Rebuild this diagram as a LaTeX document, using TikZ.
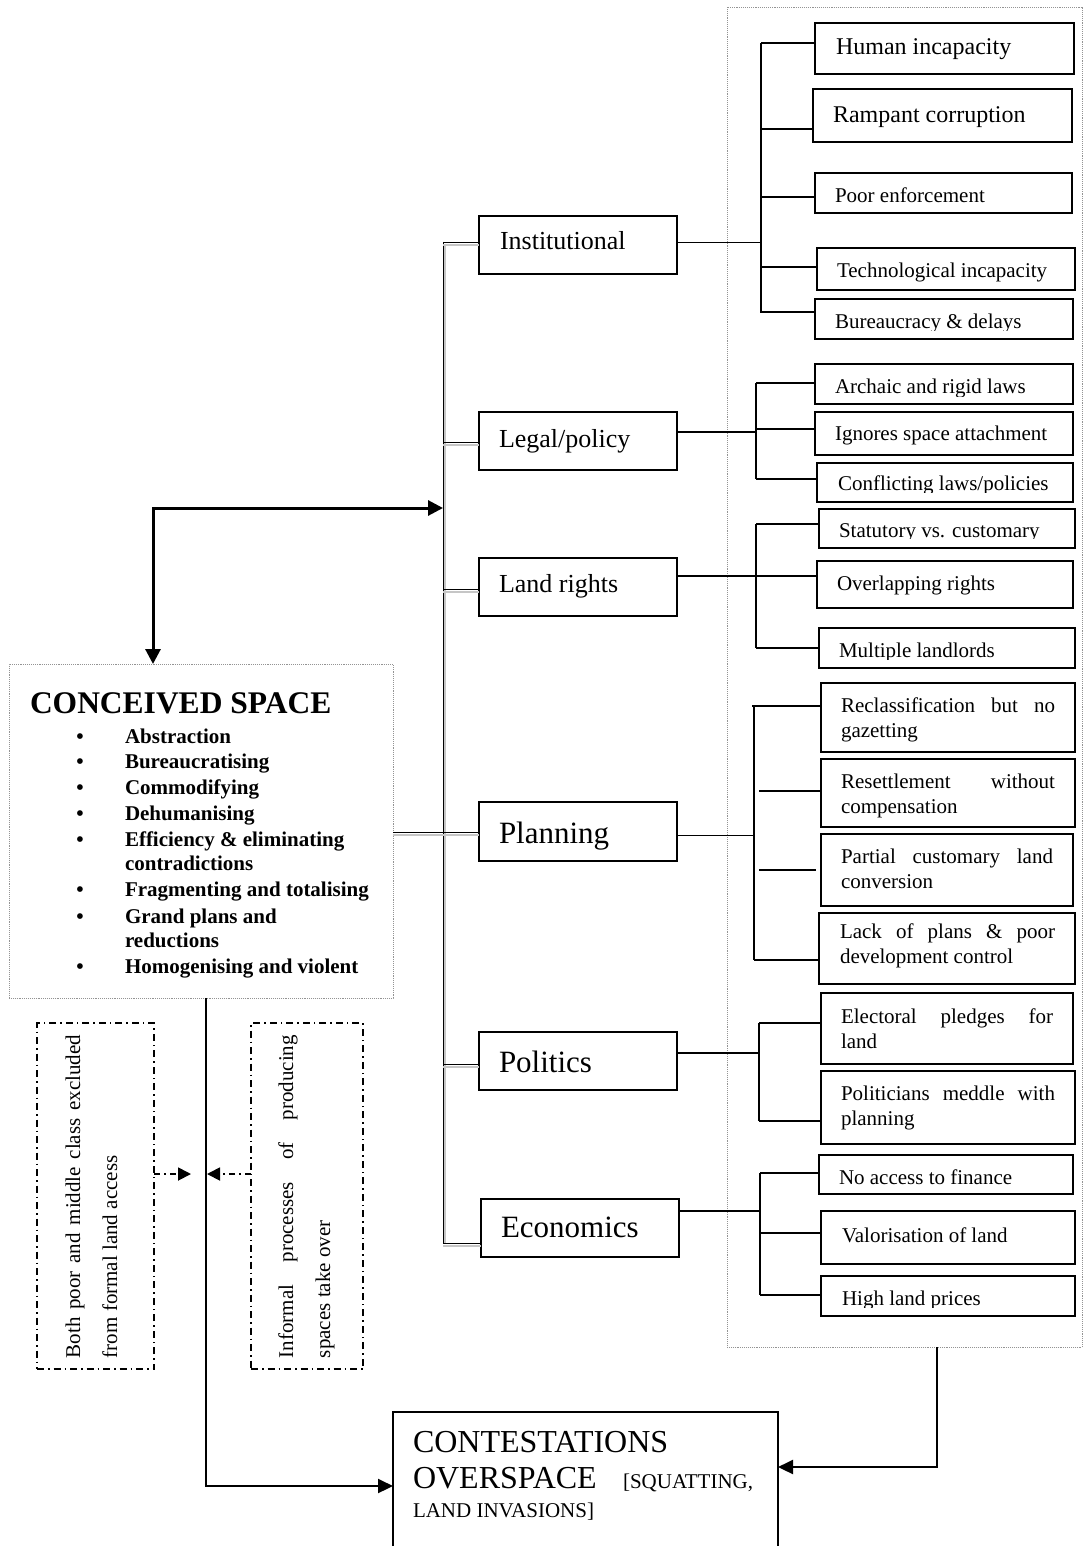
\documentclass[tikz,border=0pt]{standalone}
\usepackage{fontspec}
\setmainfont{Liberation Serif}
\usetikzlibrary{arrows.meta,calc}

\newcommand{\fs}[1]{\fontsize{#1}{#1}\selectfont}
% box from its top-left to its bottom-right corner
\newcommand{\boxat}[6][itembox]{\node[#1, minimum width={#5-#3}, minimum height={#6-#4}] (#2) at (#3,#4) {};}
% one line of text placed at its baseline start
\newcommand{\lineat}[5][21]{\node[txt, font=\fs{#1}] (#2) at (#3,#4) {#5};}
% two-line justified entry: first line stretched to the given width
\newcommand{\twoline}[6]{%
  \node[txt, font=\fs{21}] (#1a) at (#2,#3) {\makebox[#4pt][s]{#5}};
  \node[txt, font=\fs{21}] (#1b) at (#2,#3+25) {#6};}
% one line whose lower part is cut by the text area of its box
\newcommand{\cutline}[5]{%
  \begin{scope}\clip (#2-5,#3-30) rectangle (1080,#4);
  \node[txt, font=\fs{21}] (#1) at (#2,#3) {#5};\end{scope}}

\tikzset{
  catbox/.style={draw, line width=1.1pt, inner sep=0pt, outer sep=0pt, anchor=north west},
  itembox/.style={draw, line width=1.4pt, inner sep=0pt, outer sep=0pt, anchor=north west},
  heavybox/.style={itembox, line width=2.2pt},
  dotbox/.style={draw=gray!85, densely dotted, line width=0.9pt, inner sep=0pt, outer sep=0pt, anchor=north west},
  dashdotbox/.style={draw, line width=1.5pt, dash pattern=on 7pt off 4pt on 1.5pt off 4pt, inner sep=0pt, outer sep=0pt, anchor=north west},
  txt/.style={anchor=base west, inner sep=0pt, outer sep=0pt},
  branch/.style={line width=2pt},
  thinlink/.style={line width=0.9pt},
  shadowline/.style={gray!45, line width=1.4pt},
  heavyarrow/.style={line width=3pt, arrows={Triangle[length=15pt,width=15pt]-Triangle[length=15pt,width=15pt]}},
  flowarrow/.style={line width=2.2pt, arrows={-Triangle[length=15pt,width=14pt]}},
  ddarrow/.style={line width=1.8pt, dash pattern=on 6pt off 4pt on 2pt off 4pt, arrows={-Triangle[length=13pt,width=13pt]}},
}

\begin{document}
\begin{tikzpicture}[x=1pt,y=-1pt]
\useasboundingbox (0,0) rectangle (1084,1546);

% ---------- outer dotted frame of the sub-factors ----------
\boxat[dotbox]{frame}{727}{7}{1082}{1347}

% ---------- conceived space ----------
\boxat[dotbox]{conc}{9}{664}{393}{998}
\node[txt, font=\fs{31.5}\bfseries] (conct) at (30,713) {CONCEIVED SPACE};
\foreach \y/\t [count=\i] in {743/Abstraction, 768/Bureaucratising, 794/Commodifying, 820/Dehumanising,
    846/{Efficiency \& eliminating}, 896/Fragmenting and totalising, 923/Grand plans and, 973/Homogenising and violent}{
  \node[anchor=base, inner sep=0pt, font=\fs{21}\bfseries] (bul\i) at (80,\y) {•};
  \node[txt, font=\fs{21}\bfseries] (item\i) at (125,\y) {\t};
}
\node[txt, font=\fs{21}\bfseries] (item5b) at (125,870) {contradictions};
\node[txt, font=\fs{21}\bfseries] (item7b) at (125,947) {reductions};

% ---------- category boxes ----------
\boxat[catbox]{inst}{479}{216}{677}{274}
\boxat[catbox]{leg}{479}{412}{677}{470}
\boxat[catbox]{lan}{479}{558}{677}{616}
\boxat[catbox]{pla}{479}{802}{677}{861}
\boxat[catbox]{pol}{479}{1032}{677}{1090}
\boxat[catbox]{eco}{481}{1199}{679}{1257}
\lineat[26]{instt}{500}{250}{Institutional}
\lineat[26]{legt}{499}{447}{Legal/policy}
\lineat[26]{lant}{499}{592}{Land rights}
\lineat[31]{plat}{499}{843}{Planning}
\lineat[31]{polt}{499}{1072}{Politics}
\lineat[31]{ecot}{501}{1237}{Economics}

% ---------- trunk joining the categories ----------
\coordinate (trTop) at (443,242);
\coordinate (trBot) at (443,1243);
\draw[shadowline] ($(trTop)+(2,2)$) -- ($(trBot)+(2,0)$);
\draw[line width=1pt] (trTop) -- (trBot);
\foreach \n/\y in {inst/242, leg/442, lan/589, pol/1064, eco/1243}{
  \draw[shadowline] (443,\y+3) -- (\n.west |- 0,\y+3);
  \draw[line width=0.9pt] (443,\y) -- (\n.west |- 0,\y);
}
% conceived space to planning, across the trunk
\draw[shadowline] (conc.east |- 0,835) -- (pla.west |- 0,835);
\draw[line width=0.9pt] (conc.east |- 0,832) -- (pla.west |- 0,832);

% ---------- institutional factors ----------
\boxat[heavybox]{hum}{815}{23}{1074}{74}
\boxat[heavybox]{ram}{813}{89}{1072}{142}
\boxat{poo}{815}{173}{1072}{213}
\boxat{tec}{817}{248}{1075}{290}
\boxat{bur}{815}{299}{1073}{339}
\lineat[24]{humt}{836}{55}{Human incapacity}
\lineat[24]{ramt}{833}{123}{Rampant corruption}
\lineat{poot}{835}{203}{Poor enforcement}
\cutline{tect}{837}{277}{283}{Technological incapacity}
\cutline{burt}{835}{328}{330}{Bureaucracy \& delays}
\coordinate (jInst) at (761,242);
\draw[thinlink] (inst.east |- jInst) -- (jInst);
\draw[branch] (761,43) -- (761,313);
\foreach \n/\y in {hum/43, ram/129, poo/197, tec/267, bur/312}
  \draw[branch] (761,\y) -- (\n.west |- 0,\y);

% ---------- legal / policy factors ----------
\boxat{arc}{815}{364}{1073}{404}
\boxat{ign}{815}{412}{1073}{455}
\boxat{con}{817}{463}{1073}{502}
\cutline{arct}{835}{393}{396}{Archaic and rigid laws}
\lineat{ignt}{835}{440}{Ignores space attachment}
\cutline{cont}{838}{490}{492}{Conflicting laws/policies}
\coordinate (jLeg) at (756,432);
\draw[branch] (leg.east |- jLeg) -- (jLeg);
\draw[branch] (756,383) -- (756,479);
\foreach \n/\y in {arc/383, ign/429, con/479}
  \draw[branch] (756,\y) -- (\n.west |- 0,\y);

% ---------- land rights factors ----------
\boxat{sta}{819}{509}{1075}{548}
\boxat{ove}{817}{561}{1073}{608}
\boxat{mul}{819}{628}{1075}{668}
\cutline{stat}{839}{537}{538}{Statutory vs. customary}
\lineat{ovet}{837}{590}{Overlapping rights}
\cutline{mult}{839}{657}{659}{Multiple landlords}
\coordinate (jLan) at (756,576);
\draw[branch] (lan.east |- jLan) -- (jLan);
\draw[branch] (756,524) -- (756,648);
\foreach \n/\y in {sta/524, ove/576, mul/648}
  \draw[branch] (756,\y) -- (\n.west |- 0,\y);

% ---------- planning factors ----------
\boxat{rec}{821}{683}{1075}{752}
\boxat{res}{821}{759}{1075}{827}
\boxat{par}{821}{834}{1073}{906}
\boxat{lac}{819}{913}{1075}{984}
\twoline{rect}{841}{712}{214}{Reclassification but no}{gazetting}
\twoline{rest}{841}{788}{214}{Resettlement without}{compensation}
\twoline{part}{841}{863}{212}{Partial customary land}{conversion}
\twoline{lact}{840}{938}{215}{Lack of plans \& poor}{development control}
\coordinate (jPla) at (754,835);
\draw[thinlink] (pla.east |- jPla) -- (jPla);
\draw[branch] (754,706) -- (754,960);
\draw[branch] (752,706) -- (rec.west |- 0,706);
\draw[branch] (759,791) -- (res.west |- 0,791);
\draw[branch] (759,870) -- (816,870);
\draw[branch] (754,960) -- (lac.west |- 0,960);

% ---------- political factors ----------
\boxat{ele}{821}{993}{1073}{1064}
\boxat{pmd}{821}{1071}{1075}{1144}
\twoline{elet}{841}{1023}{212}{Electoral pledges for}{land}
\twoline{pmdt}{841}{1100}{214}{Politicians meddle with}{planning}
\coordinate (jPol) at (759,1053);
\draw[branch] (pol.east |- jPol) -- (jPol);
\draw[branch] (759,1023) -- (759,1121);
\foreach \n/\y in {ele/1023, pmd/1121}
  \draw[branch] (759,\y) -- (\n.west |- 0,\y);

% ---------- economic factors ----------
\boxat{noa}{819}{1155}{1073}{1194}
\boxat{val}{821}{1211}{1075}{1264}
\boxat{hig}{821}{1276}{1075}{1316}
\lineat{noat}{839}{1184}{No access to finance}
\lineat{valt}{842}{1242}{Valorisation of land}
\cutline{higt}{842}{1305}{1307}{High land prices}
\coordinate (jEco) at (760,1211);
\draw[branch] (eco.east |- jEco) -- (jEco);
\draw[branch] (760,1173) -- (760,1295);
\foreach \n/\y in {noa/1173, val/1233, hig/1295}
  \draw[branch] (760,\y) -- (\n.west |- 0,\y);

% ---------- contestations ----------
\begin{scope}
  \clip (0,0) rectangle (1084,1546);
  \boxat[itembox]{cont}{393}{1412}{778}{1570}
\end{scope}
\lineat[32]{contt1}{413}{1452}{CONTESTATIONS}
\lineat[32]{contt2}{413}{1488}{OVERSPACE}
\lineat{contt3}{623}{1488}{[SQUATTING,}
\lineat{contt4}{413}{1517}{LAND INVASIONS]}

% ---------- side notes ----------
\boxat[dashdotbox]{lnote}{37}{1023}{154}{1369}
\boxat[dashdotbox]{rnote}{251}{1023}{363}{1369}
\node[txt, rotate=90, font=\fs{21}] (lnote1) at (80,1358) {\makebox[323pt][s]{Both poor and middle class excluded}};
\node[txt, rotate=90, font=\fs{21}] (lnote2) at (117,1358) {from formal land access};
\node[txt, rotate=90, font=\fs{21}] (rnote1) at (293,1358) {\makebox[323pt][s]{Informal processes of producing}};
\node[txt, rotate=90, font=\fs{21}] (rnote2) at (330,1358) {spaces take over};

% ---------- arrows ----------
\coordinate (upX) at (153,508);
\draw[heavyarrow] (conc.north -| upX) |- (trTop |- upX);
\coordinate (downX) at (206,1486);
\draw[flowarrow] (conc.south -| downX) |- (cont.west |- downX);
\coordinate (rightX) at (937,1467);
\draw[flowarrow] (frame.south -| rightX) |- (cont.east |- rightX);
\coordinate (lTip) at (191,1174);
\coordinate (rTip) at (207,1174);
\draw[ddarrow] (lnote.east |- lTip) -- (lTip);
\draw[ddarrow] (rnote.west |- rTip) -- (rTip);
\end{tikzpicture}
\end{document}
